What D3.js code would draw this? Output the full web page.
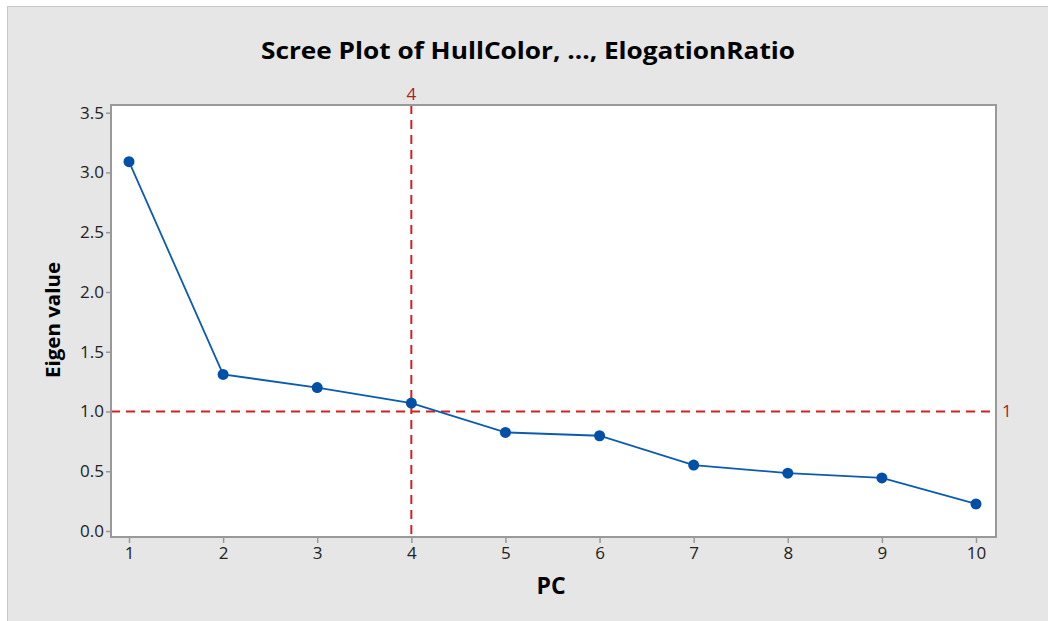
<!DOCTYPE html>
<html><head><meta charset="utf-8">
<script src="https://cdn.jsdelivr.net/npm/d3@7"></script>
<style>body{margin:0;background:#fff;}svg{display:block;}</style>
</head><body>
<svg id="c" width="1048" height="621"></svg>
<script>
const pcs = [1,2,3,4,5,6,7,8,9,10];
const eigen = [3.09,1.31,1.20,1.07,0.825,0.797,0.552,0.484,0.444,0.226];
const yTicks = [0.0,0.5,1.0,1.5,2.0,2.5,3.0,3.5];
const refX = 4, refY = 1;

const svg = d3.select('#c');
svg.append('rect').attr('x',7.5).attr('y',6.5).attr('width',1045).attr('height',620)
  .attr('fill','#e6e6e6').attr('stroke','#c8c8c8').attr('stroke-width',1);

const L=111, R=996, T=105, B=537;
svg.append('rect').attr('x',L).attr('y',T).attr('width',R-L).attr('height',B-T).attr('fill','#fff');

const x = d3.scaleLinear().domain([1,10]).range([129,976]);
const y = d3.scaleLinear().domain([0,3.5]).range([531,112.7]);

const font = "'Open Sans', 'DejaVu Sans', sans-serif";

// axes
const yAx = svg.append('g').attr('transform',`translate(${L},0)`)
  .call(d3.axisLeft(y).tickValues(yTicks).tickFormat(d3.format('.1f')).tickSize(5).tickPadding(2));
const xAx = svg.append('g').attr('transform',`translate(0,${B})`)
  .call(d3.axisBottom(x).tickValues(pcs).tickFormat(d3.format('d')).tickSize(6).tickPadding(4));
[yAx,xAx].forEach(a=>{
  a.attr('font-size',null).attr('font-family',null);
  a.select('.domain').remove();
  a.selectAll('line').attr('stroke','#999').attr('stroke-width',1.5);
  a.selectAll('text').attr('fill','#222').style('font-family',font).style('font-size','17px');
});

// reference lines
svg.append('line').attr('x1',L).attr('x2',R).attr('y1',y(refY)).attr('y2',y(refY))
  .attr('stroke','#d42020').attr('stroke-width',2).attr('stroke-dasharray','9,6');
svg.append('line').attr('x1',x(refX)).attr('x2',x(refX)).attr('y1',T).attr('y2',B)
  .attr('stroke','#d42020').attr('stroke-width',2).attr('stroke-dasharray','9,6');
svg.append('text').attr('x',x(refX)).attr('y',T-5).attr('text-anchor','middle')
  .attr('fill','#b02020').style('font-family',font).style('font-size','17px').text(refX);
svg.append('text').attr('x',R+6).attr('y',y(refY)+6)
  .attr('fill','#b02020').style('font-family',font).style('font-size','17px').text(refY);

// plot frame
svg.append('rect').attr('x',L).attr('y',T).attr('width',R-L).attr('height',B-T)
  .attr('fill','none').attr('stroke','#999').attr('stroke-width',2);

// series
const data = pcs.map((p,i)=>({p,v:eigen[i]}));
svg.append('path').datum(data)
  .attr('d',d3.line().x(d=>x(d.p)).y(d=>y(d.v)))
  .attr('fill','none').attr('stroke','#0a5cb0').attr('stroke-width',1.8);
svg.selectAll('circle.pt').data(data).enter().append('circle')
  .attr('cx',d=>x(d.p)).attr('cy',d=>y(d.v)).attr('r',5.5).attr('fill','#0050a8');

// titles
svg.append('text').attr('x',528).attr('y',59).attr('text-anchor','middle')
  .style('font-family',font).style('font-weight','bold').style('font-size','23px').attr('fill','#000')
  .attr('textLength',534).attr('lengthAdjust','spacingAndGlyphs')
  .text('Scree Plot of HullColor, ..., ElogationRatio');
svg.append('text').attr('transform',`translate(60,320) rotate(-90)`).attr('text-anchor','middle')
  .style('font-family',font).style('font-weight','bold').style('font-size','20px').attr('fill','#000')
  .attr('textLength',116).attr('lengthAdjust','spacingAndGlyphs')
  .text('Eigen value');
svg.append('text').attr('x',551).attr('y',594).attr('text-anchor','middle')
  .style('font-family',font).style('font-weight','bold').style('font-size','23px').attr('fill','#000')
  .text('PC');
</script>
</body></html>
